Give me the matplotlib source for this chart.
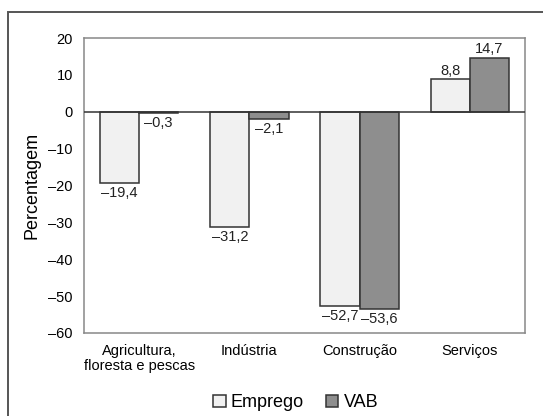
import matplotlib
matplotlib.use('Agg')
import matplotlib.pyplot as plt
import numpy as np
from matplotlib.patches import Rectangle

plt.rcParams['font.family'] = ['Liberation Sans', 'DejaVu Sans']

categorias = ['Agricultura,\nfloresta e pescas', 'Indústria', 'Construção', 'Serviços']
emprego = [-19.4, -31.2, -52.7, 8.8]
vab = [-0.3, -2.1, -53.6, 14.7]
yticks = [20, 10, 0, -10, -20, -30, -40, -50, -60]

fig = plt.figure(figsize=(5.43, 4.16), dpi=100)
ax = fig.add_axes([84/543, 1-333/416, 441/543, 295/416])

# moldura exterior
fig.patches.append(Rectangle((8/543, -0.1), 1.2, 1-12/416+0.1, transform=fig.transFigure,
                             fill=False, edgecolor='#555555', linewidth=1.4))

x = np.arange(len(categorias))
w = 0.355
b1 = ax.bar(x - w/2, emprego, w, color='#f1f1f1', edgecolor='#333333', linewidth=1.1, label='Emprego', zorder=3)
b2 = ax.bar(x + w/2, vab, w, color='#8e8e8e', edgecolor='#333333', linewidth=1.1, label='VAB', zorder=3)

def fmt(v):
    s = f"{abs(v):.1f}".replace('.', ',')
    return ('\u2013' + s) if v < 0 else s

for bars, vals in [(b1, emprego), (b2, vab)]:
    for b, v in zip(bars, vals):
        cx = b.get_x() + b.get_width()/2
        if v < 0:
            ax.annotate(fmt(v), (cx, v), xytext=(0, -2), textcoords='offset points',
                        ha='center', va='top', fontsize=10.5, color='#222222')
        else:
            ax.annotate(fmt(v), (cx, v), xytext=(0, 1), textcoords='offset points',
                        ha='center', va='bottom', fontsize=10.5, color='#222222')

ax.axhline(0, color='#333333', linewidth=1.1, zorder=4)
ax.set_xlim(-0.5, 3.5)
ax.set_ylim(-60, 20)
ax.set_yticks(yticks)
ax.set_yticklabels([('\u2013' + str(abs(t))) if t < 0 else str(t) for t in yticks], fontsize=10.5)
ax.set_xticks(x)
ax.set_xticklabels(categorias, fontsize=10.5, linespacing=1.1)
ax.tick_params(length=0, pad=8)
ax.tick_params(axis='x', pad=8)
for s in ax.spines.values():
    s.set_color('#888888')
    s.set_linewidth(1.1)
ax.set_ylabel('Percentagem', fontsize=13, labelpad=6)

ax.legend(loc='center', bbox_to_anchor=(0.48, -0.237), ncol=2, frameon=False,
          fontsize=13, handlelength=0.7, handleheight=0.7, handletextpad=0.3,
          columnspacing=1.2, borderpad=0)

fig.savefig('out.png', dpi=100)
